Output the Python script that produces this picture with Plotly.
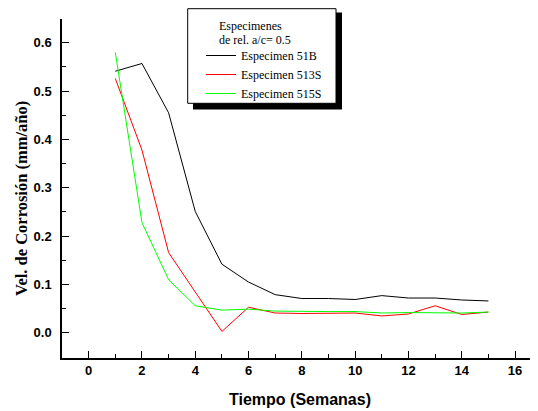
import plotly.graph_objects as go

weeks = list(range(1, 16))
s51B = [0.541, 0.557, 0.455, 0.251, 0.142, 0.105, 0.079, 0.071, 0.071, 0.069, 0.077, 0.072, 0.072, 0.068, 0.066]
s513S = [0.526, 0.378, 0.166, 0.085, 0.003, 0.053, 0.041, 0.040, 0.041, 0.041, 0.035, 0.039, 0.056, 0.038, 0.043]
s515S = [0.580, 0.228, 0.110, 0.056, 0.047, 0.049, 0.045, 0.044, 0.044, 0.044, 0.041, 0.042, 0.041, 0.041, 0.043]
names = ["Especimen 51B", "Especimen 513S", "Especimen 515S"]
colors = ["#000000", "#ff0000", "#00ff00"]
legend_title = ["Especimenes", "de rel. a/c= 0.5"]

fig = go.Figure()
for name, ys, c in zip(names, [s51B, s513S, s515S], colors):
    fig.add_trace(go.Scatter(x=weeks, y=ys, mode="lines", name=name,
                             line=dict(color=c, width=1)))

# page body has an 8px margin, so the figure is shifted by 8px
OFF = 8
W, H = 538 - OFF, 411 - OFF
L, R, T, B = 62 - OFF, 0, 19 - OFF, 53
pw, ph = W - L - R, H - T - B

def px(x):
    return (x - OFF - L) / pw

def py(y):
    return (H - B - (y - OFF)) / ph

tickfont = dict(family="Liberation Sans", size=13, color="black", weight="bold")
axis_common = dict(showline=True, linecolor="black", linewidth=1.5, showgrid=False,
                   zeroline=False, ticks="inside", ticklen=7, tickwidth=1.2,
                   tickcolor="black", tickfont=tickfont, mirror=False)

fig.update_xaxes(range=[-1, 16.86], dtick=2, tick0=0,
                 minor=dict(ticks="inside", ticklen=4, dtick=1, tickcolor="black", tickwidth=1.2),
                 title=dict(text="Tiempo (Semanas)",
                            font=dict(family="Liberation Sans", size=16, color="black", weight="bold"),
                            standoff=16),
                 **axis_common)
fig.update_yaxes(range=[-0.052, 0.649], dtick=0.1, tick0=0, tickformat=".1f",
                 minor=dict(ticks="inside", ticklen=4, dtick=0.05, tickcolor="black", tickwidth=1.2),
                 ticklabelstandoff=6,
                 **axis_common)

# legend box with shadow
fig.add_shape(type="rect", xref="paper", yref="paper",
              x0=px(193), x1=px(342), y0=py(109.5), y1=py(12.5),
              fillcolor="black", line=dict(width=0), layer="above")
fig.add_shape(type="rect", xref="paper", yref="paper",
              x0=px(187.7), x1=px(336), y0=py(103.3), y1=py(8.7),
              fillcolor="white", line=dict(color="black", width=1), layer="above")

for txt, yc in zip(legend_title, [26, 40]):
    fig.add_annotation(text=txt, xref="paper", yref="paper", x=px(217), y=py(yc),
                       xanchor="left", yanchor="middle", showarrow=False,
                       font=dict(family="Liberation Serif", size=12, color="black"))

fig.add_annotation(text="Vel. de Corrosión (mm/año)", xref="paper", yref="paper",
                   x=px(22), y=py(199), textangle=-90, showarrow=False,
                   xanchor="center", yanchor="middle",
                   font=dict(family="Liberation Serif", size=16.5, color="black", weight="bold"))

fig.update_layout(
    width=W, height=H,
    margin=dict(l=L, r=R, t=T, b=B, pad=0),
    paper_bgcolor="white", plot_bgcolor="white",
    showlegend=True,
    legend=dict(x=px(201), y=py(41), xanchor="left", yanchor="top",
                bgcolor="rgba(0,0,0,0)", borderwidth=0,
                font=dict(family="Liberation Serif", size=12, color="black")),
)

fig.write_html("out.html")
